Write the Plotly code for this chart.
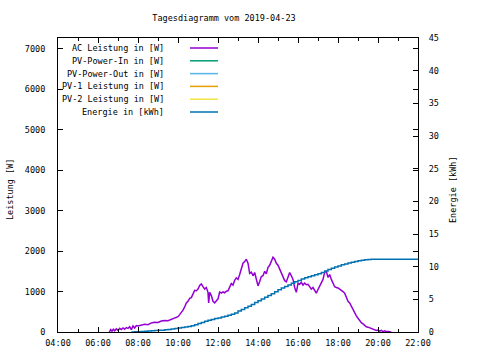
import plotly.graph_objects as go

DAY = "2019-04-23 "

ac_times = ["06:34","06:38","06:42","06:46","06:50","06:55","07:00","07:05","07:10","07:15","07:20","07:25","07:30","07:35","07:40","07:45","07:50","07:55",
            "08:00","08:10","08:20","08:30","08:40","08:50","09:00","09:10","09:20","09:30","09:40","09:50",
            "10:00","10:05","10:10","10:15","10:20","10:25","10:30","10:35","10:40","10:45","10:50","10:55",
            "11:00","11:05","11:10","11:15","11:20","11:25","11:30","11:32","11:35","11:40","11:45","11:50","11:55",
            "12:00","12:05","12:10","12:15","12:20","12:25","12:30","12:35","12:40","12:45","12:50","12:55",
            "13:00","13:05","13:10","13:15","13:20","13:25","13:30","13:35","13:40","13:45","13:50","13:55",
            "14:00","14:05","14:10","14:15","14:20","14:25","14:30","14:35","14:40","14:45","14:50","14:55",
            "15:00","15:05","15:10","15:15","15:20","15:25","15:30","15:35","15:40","15:45","15:50","15:55",
            "16:00","16:05","16:10","16:15","16:20","16:25","16:30","16:35","16:40","16:45","16:50","16:55",
            "17:00","17:05","17:10","17:15","17:20","17:25","17:30","17:35","17:40","17:45","17:50","17:55",
            "18:00","18:05","18:10","18:15","18:20","18:25","18:30","18:35","18:40","18:45","18:50","18:55",
            "19:00","19:05","19:10","19:15","19:20","19:25","19:30","19:35","19:40","19:45","19:50","19:55",
            "20:00","20:05","20:10","20:15","20:20","20:25","20:30","20:35","20:40"]
ac_power = [0,60,20,70,30,80,40,90,60,100,70,110,90,130,60,150,100,160,
            150,170,190,180,225,240,235,270,285,280,320,345,
            380,430,480,540,620,720,760,830,850,960,1030,1020,
            1060,1150,1190,1120,1060,1100,980,720,980,900,760,720,760,
            820,990,960,990,970,1010,1020,1110,1200,1160,1280,1340,
            1300,1420,1580,1700,1740,1800,1700,1450,1480,1390,1470,1300,
            1140,1250,1370,1390,1500,1440,1600,1650,1760,1850,1800,1700,
            1650,1560,1450,1350,1270,1240,1380,1470,1390,1300,1100,980,
            1200,1180,1230,1160,1210,1170,1180,1120,1060,1100,1030,960,
            1050,1130,1200,1300,1480,1500,1350,1420,1300,1200,1120,1100,
            1090,1060,1040,1000,960,840,760,720,630,560,480,400,
            340,270,230,200,160,130,120,100,80,70,60,40,
            50,20,40,10,30,10,15,5,0]

en_times = ["07:40","07:50","08:00","08:10","08:20","08:30","08:40","08:50","09:00","09:10","09:20","09:30","09:40","09:50",
            "10:00","10:10","10:20","10:30","10:40","10:50","11:00","11:10","11:20","11:30","11:40","11:50",
            "12:00","12:10","12:20","12:30","12:40","12:50","13:00","13:10","13:20","13:30","13:40","13:50",
            "14:00","14:10","14:20","14:30","14:40","14:50","15:00","15:10","15:20","15:30","15:40","15:50",
            "16:00","16:10","16:20","16:30","16:40","16:50","17:00","17:10","17:20","17:30","17:40","17:50",
            "18:00","18:10","18:20","18:30","18:40","18:50","19:00","19:10","19:20","19:30","19:40","19:50",
            "20:00","22:00"]
en_kwh = [0,0.02,0.05,0.08,0.12,0.15,0.18,0.22,0.25,0.28,0.33,0.4,0.46,0.53,
          0.6,0.67,0.75,0.85,0.97,1.12,1.3,1.47,1.63,1.8,1.93,2.05,
          2.15,2.28,2.42,2.55,2.7,2.92,3.2,3.45,3.7,3.95,4.2,4.5,
          4.8,5.05,5.3,5.6,5.85,6.15,6.45,6.72,6.98,7.2,7.45,7.68,
          7.9,8.1,8.3,8.45,8.62,8.78,8.9,9.1,9.32,9.55,9.75,9.95,
          10.1,10.28,10.42,10.55,10.68,10.8,10.9,10.98,11.05,11.1,11.13,11.15,
          11.15,11.15]

legend_labels = ["AC Leistung in [W]", "PV-Power-In in [W]", "PV-Power-Out in [W]",
                 "PV-1 Leistung in [W]", "PV-2 Leistung in [W]", "Energie in [kWh]"]
legend_colors = ["#9400d3", "#009e73", "#56b4e9", "#e69f00", "#f0e442", "#0072b2"]

FONT = "DejaVu Sans Mono"
FS = 8.5
L, R, T, B = 58, 418, 38, 332
W, H = R - L, B - T

fig = go.Figure()
fig.add_trace(go.Scatter(x=[DAY + t for t in ac_times], y=ac_power, mode="lines",
                         line=dict(color=legend_colors[0], width=1.5), showlegend=False))
fig.add_trace(go.Scatter(x=[DAY + t for t in en_times], y=en_kwh, mode="lines", yaxis="y2",
                         line=dict(color=legend_colors[5], width=1.5, shape="hv"), showlegend=False))

annotations = []
shapes = []
for i, (lab, col) in enumerate(zip(legend_labels, legend_colors)):
    py = 48 + i * 12.8
    yp = (B - py) / H
    annotations.append(dict(text=lab, xref="paper", yref="paper", x=(166 - L) / W, y=yp,
                            xanchor="right", yanchor="middle", showarrow=False,
                            font=dict(family=FONT, size=FS, color="black")))
    shapes.append(dict(type="line", xref="paper", yref="paper", x0=(190 - L) / W, x1=(218 - L) / W,
                       y0=yp, y1=yp, line=dict(color=col, width=1.5)))

annotations.append(dict(text="Leistung [W]", xref="paper", yref="paper", x=(10 - L) / W, y=(B - 190) / H,
                        xanchor="center", yanchor="middle", textangle=-90, showarrow=False,
                        font=dict(family=FONT, size=FS, color="black")))
annotations.append(dict(text="Energie [kWh]", xref="paper", yref="paper", x=(453 - L) / W, y=(B - 190) / H,
                        xanchor="center", yanchor="middle", textangle=-90, showarrow=False,
                        font=dict(family=FONT, size=FS, color="black")))

fig.update_layout(
    width=480, height=360,
    margin=dict(l=L, r=480 - R, t=T, b=360 - B, autoexpand=False),
    paper_bgcolor="white", plot_bgcolor="white",
    title=dict(text="Tagesdiagramm vom 2019-04-23", x=224 / 480, xanchor="center",
               y=1 - 18 / 360, yanchor="middle", automargin=False,
               font=dict(family=FONT, size=FS, color="black")),
    font=dict(family=FONT, size=FS, color="black"),
    xaxis=dict(type="date", range=[DAY + "04:00", DAY + "22:00"], dtick=7200000, tick0=DAY + "04:00",
               tickformat="%H:%M", ticks="inside", ticklen=5, tickcolor="black", automargin=False,
               showline=True, linecolor="black", linewidth=1, mirror="ticks", showgrid=False,
               zeroline=False, ticklabelstandoff=3,
               minor=dict(dtick=3600000, ticks="inside", ticklen=3, tickcolor="black", showgrid=False),
               tickfont=dict(family=FONT, size=FS)),
    yaxis=dict(range=[0, 7270], dtick=1000, ticks="inside", ticklen=5, tickcolor="black",
               showline=True, linecolor="black", linewidth=1, mirror="ticks", showgrid=False,
               zeroline=False, ticklabelstandoff=10, automargin=False,
               tickfont=dict(family=FONT, size=FS)),
    yaxis2=dict(range=[0, 45], dtick=5, overlaying="y", side="right", ticks="inside", ticklen=5,
                tickcolor="black", showline=True, linecolor="black", showgrid=False, zeroline=False,
                ticklabelstandoff=8, automargin=False,
                tickfont=dict(family=FONT, size=FS)),
    annotations=annotations, shapes=shapes,
)

fig.write_html("out.html", config={"displayModeBar": False},
               post_script="document.body.style.margin='0';document.body.style.padding='0';")
